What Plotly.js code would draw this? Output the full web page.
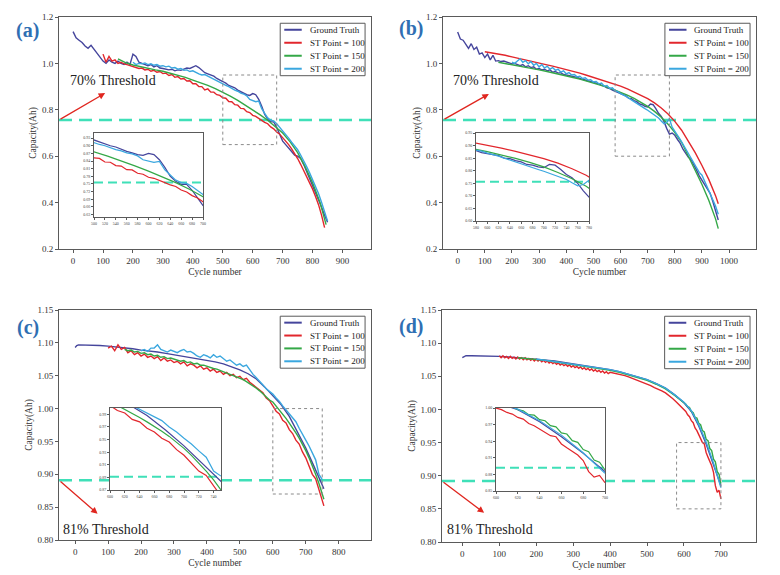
<!DOCTYPE html>
<html>
<head>
<meta charset="utf-8">
<script src="https://cdn.plot.ly/plotly-3.0.1.min.js"></script>
<style>
  html, body { margin: 0; padding: 0; background: #ffffff; }
  #chart { width: 780px; height: 575px; }
</style>
</head>
<body>
<div id="chart"></div>
<script>
// ---- cycle grids ----------------------------------------------------------
function cycles(start, stop, step) {
  const out = [];
  for (let c = start; c <= stop + 1e-9; c += step) out.push(c);
  return out;
}

const seriesNames = ['Ground Truth', 'ST Point = 100', 'ST Point = 150', 'ST Point = 200'];
const panelTags = ['(a)', '(b)', '(c)', '(d)'];
const thresholdLabels = ['70% Threshold', '70% Threshold', '81% Threshold', '81% Threshold'];
const thresholds = [0.756, 0.756, 0.891, 0.892];

// ---- panel (a) ------------------------------------------------------------
const gtA_x = cycles(0, 850, 10);
const gtA_y = [1.137, 1.110, 1.100, 1.090, 1.075, 1.065, 1.078, 1.060, 1.045, 1.025,
  1.010, 1.000, 1.015, 1.005, 1.000, 1.010, 1.000, 0.995, 1.005, 0.995,
  1.040, 1.030, 1.005, 1.000, 0.995, 0.990, 0.995, 0.985, 0.990, 0.980,
  0.978, 0.975, 0.972, 0.975, 0.968, 0.972, 0.970, 0.975, 0.980, 0.978,
  0.985, 0.990, 0.982, 0.970, 0.960, 0.955, 0.950, 0.945, 0.935, 0.930,
  0.922, 0.915, 0.905, 0.900, 0.895, 0.885, 0.878, 0.872, 0.865, 0.862,
  0.870, 0.865, 0.845, 0.815, 0.780, 0.760, 0.748, 0.748, 0.725, 0.695,
  0.665, 0.650, 0.635, 0.620, 0.605, 0.600, 0.590, 0.565, 0.535, 0.505,
  0.470, 0.445, 0.415, 0.380, 0.345, 0.315];
const st100A_x = cycles(100, 840, 10);
const st100A_y = [1.040, 1.005, 1.030, 1.010, 1.015, 1.000, 1.005, 0.998, 0.995, 0.990,
  0.985, 0.980, 0.978, 0.980, 0.972, 0.975, 0.966, 0.970, 0.962, 0.965,
  0.956, 0.958, 0.948, 0.952, 0.940, 0.943, 0.933, 0.935, 0.924, 0.925,
  0.912, 0.912, 0.900, 0.900, 0.886, 0.890, 0.876, 0.876, 0.865, 0.862,
  0.852, 0.850, 0.836, 0.835, 0.822, 0.820, 0.806, 0.805, 0.792, 0.788,
  0.776, 0.772, 0.762, 0.755, 0.746, 0.740, 0.726, 0.718, 0.704, 0.695,
  0.680, 0.668, 0.650, 0.632, 0.612, 0.590, 0.565, 0.540, 0.515, 0.488,
  0.458, 0.425, 0.390, 0.345, 0.292];
const st150A_x = cycles(150, 825, 25).concat([845]);
const st150A_y = [1.020, 1.003, 0.993, 0.985, 0.978, 0.972, 0.966, 0.958, 0.950, 0.940,
  0.928, 0.917, 0.905, 0.891, 0.876, 0.859, 0.841, 0.821, 0.800, 0.778,
  0.755, 0.729, 0.700, 0.662, 0.615, 0.555, 0.485, 0.400, 0.305];
const st200A_x = cycles(200, 850, 10);
const st200A_y = [1.005, 0.995, 1.000, 0.998, 1.002, 0.995, 0.998, 0.992, 0.995, 0.988,
  0.990, 0.985, 0.988, 0.980, 0.982, 0.975, 0.978, 0.970, 0.972, 0.965,
  0.968, 0.960, 0.955, 0.950, 0.952, 0.945, 0.938, 0.930, 0.925, 0.918,
  0.912, 0.905, 0.900, 0.892, 0.885, 0.880, 0.872, 0.868, 0.860, 0.845,
  0.840, 0.835, 0.838, 0.805, 0.785, 0.765, 0.755, 0.752, 0.740, 0.725,
  0.710, 0.695, 0.678, 0.660, 0.645, 0.628, 0.605, 0.582, 0.555, 0.528,
  0.500, 0.470, 0.438, 0.400, 0.360, 0.320];

// ---- panel (b) ------------------------------------------------------------
const gtB_x = cycles(0, 960, 10);
const gtB_y = [1.135, 1.105, 1.100, 1.080, 1.065, 1.085, 1.060, 1.070, 1.040, 1.045,
  1.025, 1.040, 1.015, 1.035, 1.010, 1.012, 1.008, 1.010, 1.005, 1.002,
  0.998, 1.000, 0.995, 0.990, 0.995, 0.985, 0.990, 0.982, 0.985, 0.975,
  0.978, 0.972, 0.975, 0.968, 0.972, 0.962, 0.965, 0.958, 0.960, 0.952,
  0.950, 0.948, 0.945, 0.942, 0.940, 0.935, 0.932, 0.930, 0.925, 0.922,
  0.920, 0.915, 0.912, 0.905, 0.902, 0.895, 0.892, 0.885, 0.880, 0.872,
  0.868, 0.862, 0.860, 0.850, 0.848, 0.840, 0.835, 0.825, 0.822, 0.815,
  0.812, 0.825, 0.822, 0.805, 0.785, 0.772, 0.750, 0.720, 0.695, 0.700,
  0.690, 0.672, 0.655, 0.630, 0.612, 0.595, 0.585, 0.565, 0.540, 0.515,
  0.495, 0.480, 0.460, 0.440, 0.405, 0.365, 0.325];
const st100B_x = cycles(100, 950, 25).concat([960]);
const st100B_y = [1.050, 1.046, 1.041, 1.035, 1.028, 1.022, 1.016, 1.009, 1.002, 0.995,
  0.988, 0.981, 0.973, 0.966, 0.958, 0.949, 0.940, 0.931, 0.922, 0.912,
  0.902, 0.890, 0.877, 0.863, 0.848, 0.830, 0.808, 0.782, 0.750, 0.712,
  0.665, 0.615, 0.560, 0.500, 0.430, 0.395];
const st150B_x = cycles(150, 950, 25).concat([960]);
const st150B_y = [1.005, 1.000, 0.995, 0.990, 0.985, 0.979, 0.972, 0.966, 0.960, 0.953,
  0.946, 0.939, 0.932, 0.924, 0.916, 0.907, 0.898, 0.887, 0.876, 0.863,
  0.849, 0.833, 0.815, 0.793, 0.768, 0.738, 0.702, 0.660, 0.600, 0.540,
  0.478, 0.410, 0.330, 0.288];
const st200B_x = cycles(200, 960, 10);
const st200B_y = [1.005, 1.000, 1.010, 1.020, 1.005, 1.012, 0.998, 1.008, 0.992, 1.000,
  0.985, 0.995, 0.980, 0.988, 0.975, 0.982, 0.970, 0.975, 0.962, 0.968,
  0.955, 0.960, 0.950, 0.952, 0.942, 0.945, 0.935, 0.938, 0.928, 0.930,
  0.920, 0.922, 0.912, 0.915, 0.902, 0.905, 0.892, 0.895, 0.882, 0.878,
  0.870, 0.865, 0.858, 0.850, 0.842, 0.835, 0.828, 0.820, 0.812, 0.805,
  0.798, 0.790, 0.780, 0.775, 0.765, 0.752, 0.740, 0.745, 0.762, 0.725,
  0.710, 0.690, 0.672, 0.652, 0.632, 0.612, 0.592, 0.575, 0.552, 0.530,
  0.518, 0.492, 0.468, 0.445, 0.415, 0.385, 0.350];

// ---- panel (c) ------------------------------------------------------------
const gtC_x = [0, 5, 10].concat(cycles(25, 725, 25)).concat([740, 755]);
const gtC_y = [1.093, 1.096, 1.097,
  1.097, 1.097, 1.096, 1.095, 1.094, 1.092, 1.091, 1.089, 1.088, 1.086,
  1.084, 1.082, 1.080, 1.078, 1.076, 1.074, 1.071, 1.068, 1.064, 1.059,
  1.053, 1.045, 1.033, 1.019, 1.006, 0.988, 0.965, 0.940, 0.912,
  0.894, 0.878];
const st100C_x = cycles(100, 750, 10).concat([755]);
const st100C_y = [1.092, 1.095, 1.088, 1.097, 1.090, 1.093, 1.085, 1.088, 1.082, 1.085,
  1.080, 1.083, 1.078, 1.080, 1.076, 1.079, 1.073, 1.077, 1.072, 1.074,
  1.070, 1.072, 1.068, 1.071, 1.065, 1.068, 1.066, 1.062, 1.065, 1.060,
  1.062, 1.057, 1.060, 1.055, 1.057, 1.052, 1.055, 1.050, 1.052, 1.047,
  1.049, 1.044, 1.046, 1.040, 1.036, 1.032, 1.027, 1.024, 1.016, 1.012,
  1.004, 0.996, 0.992, 0.982, 0.978, 0.968, 0.962, 0.952, 0.946, 0.934,
  0.925, 0.913, 0.900, 0.893, 0.876, 0.860, 0.852];
const st150C_x = cycles(150, 750, 10).concat([755]);
const st150C_y = [1.090, 1.088, 1.089, 1.086, 1.087, 1.084, 1.085, 1.082, 1.083, 1.080,
  1.081, 1.078, 1.079, 1.076, 1.077, 1.075, 1.074, 1.072, 1.073, 1.070,
  1.071, 1.068, 1.069, 1.066, 1.066, 1.064, 1.063, 1.061, 1.060, 1.058,
  1.057, 1.055, 1.053, 1.051, 1.049, 1.047, 1.044, 1.041, 1.038, 1.035,
  1.031, 1.027, 1.022, 1.017, 1.013, 1.010, 1.004, 0.998, 0.992, 0.985,
  0.978, 0.971, 0.963, 0.955, 0.946, 0.936, 0.925, 0.913, 0.900, 0.886,
  0.870, 0.862];
const st200C_x = cycles(200, 750, 10);
const st200C_y = [1.088, 1.090, 1.087, 1.092, 1.092, 1.097, 1.090, 1.088, 1.086, 1.089,
  1.087, 1.085, 1.088, 1.090, 1.086, 1.087, 1.084, 1.080, 1.078, 1.082,
  1.080, 1.077, 1.082, 1.078, 1.080, 1.076, 1.072, 1.074, 1.070, 1.066,
  1.068, 1.064, 1.066, 1.058, 1.052, 1.047, 1.042, 1.036, 1.030, 1.026,
  1.022, 1.016, 1.011, 1.004, 0.998, 0.992, 0.985, 0.980, 0.970, 0.962,
  0.952, 0.943, 0.932, 0.922, 0.900, 0.892];

// ---- panel (d) ------------------------------------------------------------
const gtD_x = [0, 5, 10].concat(cycles(25, 600, 25)).concat([620, 640, 660, 680, 700]);
const gtD_y = [1.078, 1.080, 1.081,
  1.081, 1.081, 1.081, 1.080, 1.079, 1.078, 1.077, 1.076, 1.074, 1.073,
  1.071, 1.069, 1.067, 1.065, 1.062, 1.060, 1.057, 1.053, 1.049, 1.045,
  1.039, 1.032, 1.022, 1.010,
  0.997, 0.975, 0.948, 0.918, 0.885];
const st100D_x = cycles(100, 400, 5).concat(cycles(410, 600, 10)).concat(cycles(605, 700, 5));
const st100D_y = [1.081, 1.078, 1.081, 1.078, 1.080, 1.077, 1.080, 1.077, 1.079, 1.076,
  1.079, 1.076, 1.078, 1.075, 1.078, 1.075, 1.077, 1.074, 1.076, 1.073,
  1.076, 1.073, 1.075, 1.072, 1.074, 1.071, 1.073, 1.070, 1.072, 1.069,
  1.071, 1.068, 1.070, 1.067, 1.069, 1.066, 1.068, 1.065, 1.067, 1.064,
  1.066, 1.063, 1.065, 1.062, 1.064, 1.061, 1.063, 1.060, 1.062, 1.059,
  1.061, 1.058, 1.060, 1.057, 1.059, 1.056, 1.058, 1.055, 1.057, 1.054,
  1.056,
  1.055, 1.054, 1.052, 1.051, 1.049, 1.047, 1.045, 1.043, 1.041, 1.039,
  1.036, 1.033, 1.031, 1.028, 1.025, 1.021, 1.016, 1.011, 1.006, 1.000,
  0.997, 0.992, 0.989, 0.983, 0.980, 0.972, 0.968, 0.962, 0.955, 0.950,
  0.948, 0.935, 0.928, 0.922, 0.915, 0.905, 0.885, 0.875, 0.878, 0.865];
const st150D_x = cycles(150, 575, 25).concat(cycles(600, 700, 5));
const st150D_y = [1.078, 1.077, 1.076, 1.074, 1.072, 1.070, 1.068, 1.066, 1.064, 1.061,
  1.059, 1.056, 1.052, 1.048, 1.044, 1.038, 1.031, 1.021,
  1.010, 1.008, 1.004, 1.003, 0.997, 0.995, 0.988, 0.987, 0.979, 0.977,
  0.968, 0.966, 0.955, 0.953, 0.941, 0.938, 0.925, 0.921, 0.906, 0.902,
  0.888];
const st200D_x = cycles(200, 600, 25).concat([620, 640, 660, 680, 700]);
const st200D_y = [1.076, 1.074, 1.073, 1.071, 1.069, 1.067, 1.065, 1.062, 1.060, 1.057,
  1.053, 1.049, 1.045, 1.039, 1.032, 1.022, 1.011,
  0.998, 0.977, 0.951, 0.919, 0.882];

// zoomed windows marked with a dotted box, and the inset ranges
const zoomBoxes = [[500, 680, 0.65, 0.95], [580, 780, 0.60, 0.95], [600, 750, 0.87, 1.00], [580, 700, 0.85, 0.95]];
const insetRanges = [[500, 700, 0.62, 0.95], [580, 780, 0.60, 0.95], [600, 750, 0.87, 1.00], [600, 700, 0.85, 1.00]];

const panelSeries = [
  [[gtA_x, gtA_y], [st100A_x, st100A_y], [st150A_x, st150A_y], [st200A_x, st200A_y]],
  [[gtB_x, gtB_y], [st100B_x, st100B_y], [st150B_x, st150B_y], [st200B_x, st200B_y]],
  [[gtC_x, gtC_y], [st100C_x, st100C_y], [st150C_x, st150C_y], [st200C_x, st200C_y]],
  [[gtD_x, gtD_y], [st100D_x, st100D_y], [st150D_x, st150D_y], [st200D_x, st200D_y]]
];

// ---- styling / geometry ---------------------------------------------------
const FONT = 'Liberation Serif, Times New Roman, serif';
const colors = ['#45459c', '#e2262c', '#34a847', '#3aa7df'];
const W = 780, H = 575;
const fx = px => px / W;
const fy = py => 1 - py / H;

const frames = [ // main plot frames in px: [left, right, top, bottom]
  [59, 371, 17, 249], [443, 756, 17, 249], [59, 371, 310, 540], [442, 756, 310, 542]
];
const insetFrames = [
  [94, 203, 133, 217], [476, 589, 133, 221], [110, 221, 408, 490], [496, 605, 408, 491]
];
const axisSetup = [
  { xr: [-47, 995], yr: [0.2, 1.2], yd: 0.2, y0: 0.2, yf: '.1f' },
  { xr: [-54, 1099], yr: [0.2, 1.2], yd: 0.2, y0: 0.2, yf: '.1f' },
  { xr: [-49, 898], yr: [0.8, 1.15], yd: 0.05, y0: 0.8, yf: '.2f' },
  { xr: [-55, 795], yr: [0.8, 1.15], yd: 0.05, y0: 0.8, yf: '.2f' }
];
const insetTicks = [
  { xd: 20, yd: 0.03, y0: 0.63, yf: '.2f' },
  { xd: 20, yd: 0.05, y0: 0.60, yf: '.2f' },
  { xd: 20, yd: 0.02, y0: 0.87, yf: '.2f' },
  { xd: 20, yd: 0.03, y0: 0.85, yf: '.2f' }
];
const arrowHeads = [[107, 0.872], [115, 0.868], [68, 0.840], [59, 0.844]];
const tagPos = [[27.5, 30], [410.5, 28.5], [27.5, 327.5], [410.5, 326.5]];
const thrTextPos = [[68, 81], [450.7, 81], [61, 529], [445, 529]];

const traces = [];
const shapes = [];
const annotations = [];
const layout = {
  width: W, height: H,
  margin: { l: 0, r: 0, t: 0, b: 0 },
  paper_bgcolor: '#ffffff', plot_bgcolor: '#ffffff',
  showlegend: false,
  font: { family: FONT, color: '#333' }
};

panelSeries.forEach((series, p) => {
  const n = p + 1;
  const xa = n === 1 ? 'x' : 'x' + n;
  const ya = n === 1 ? 'y' : 'y' + n;
  const ixa = 'x' + (n + 4), iya = 'y' + (n + 4);
  const fr = frames[p], ifr = insetFrames[p], ax = axisSetup[p], it = insetTicks[p];
  const ir = insetRanges[p], zb = zoomBoxes[p], thr = thresholds[p];

  const baseAxis = {
    showgrid: false, zeroline: false, showline: true, mirror: true,
    linecolor: '#5a5a5a', linewidth: 1, ticks: 'outside', tickcolor: '#5a5a5a'
  };
  layout['xaxis' + (n === 1 ? '' : n)] = Object.assign({}, baseAxis, {
    domain: [fx(fr[0]), fx(fr[1])], anchor: ya, range: ax.xr,
    dtick: 100, tick0: 0, ticklen: 3,
    tickfont: { family: FONT, size: 9, color: '#333' },
    title: { text: 'Cycle number', font: { family: FONT, size: 9.5, color: '#333' }, standoff: 3 }
  });
  layout['yaxis' + (n === 1 ? '' : n)] = Object.assign({}, baseAxis, {
    domain: [fy(fr[3]), fy(fr[2])], anchor: xa, range: ax.yr,
    dtick: ax.yd, tick0: ax.y0, tickformat: ax.yf, ticklen: 3,
    tickfont: { family: FONT, size: 9, color: '#333' },
    title: { text: 'Capacity(Ah)', font: { family: FONT, size: 9.5, color: '#333' }, standoff: 3 }
  });
  layout['xaxis' + (n + 4)] = Object.assign({}, baseAxis, {
    domain: [fx(ifr[0]), fx(ifr[1])], anchor: iya, range: [ir[0], ir[1]],
    dtick: it.xd, tick0: ir[0], ticklen: 2, tickangle: 0,
    tickfont: { family: FONT, size: 4, color: '#444' }
  });
  layout['yaxis' + (n + 4)] = Object.assign({}, baseAxis, {
    domain: [fy(ifr[3]), fy(ifr[2])], anchor: ixa, range: [ir[2], ir[3]],
    dtick: it.yd, tick0: it.y0, tickformat: it.yf, ticklen: 2,
    tickfont: { family: FONT, size: 4, color: '#444' }
  });

  // curves in the main panel and in its inset
  series.forEach((s, k) => {
    traces.push({
      type: 'scatter', mode: 'lines', x: s[0], y: s[1], name: seriesNames[k],
      xaxis: xa, yaxis: ya, line: { color: colors[k], width: 1.4 }, hoverinfo: 'skip'
    });
  });
  series.forEach((s, k) => {
    traces.push({
      type: 'scatter', mode: 'lines', x: s[0], y: s[1], name: seriesNames[k],
      xaxis: ixa, yaxis: iya, line: { color: colors[k], width: 1.2 }, hoverinfo: 'skip'
    });
  });

  // threshold lines
  const dashStyle = { color: '#3fe0b8', width: 2.6, dash: '13px,7px' };
  shapes.push({ type: 'line', layer: 'below', xref: xa, yref: ya,
    x0: ax.xr[0], x1: ax.xr[1], y0: thr, y1: thr, line: dashStyle });
  shapes.push({ type: 'line', layer: 'below', xref: ixa, yref: iya,
    x0: ir[0], x1: ir[1], y0: thr, y1: thr, line: { color: '#3fe0b8', width: 2, dash: '9px,5px' } });

  // dotted zoom window
  shapes.push({ type: 'rect', layer: 'above', xref: xa, yref: ya,
    x0: zb[0], x1: zb[1], y0: zb[2], y1: zb[3],
    line: { color: '#8a8a8a', width: 1, dash: 'dot' } });

  // legend box
  const xd = xa + ' domain', yd = ya + ' domain';
  shapes.push({ type: 'rect', layer: 'above', xref: xd, yref: yd,
    x0: 0.709, x1: 0.981, y0: 0.747, y1: 0.973,
    fillcolor: '#ffffff', line: { color: '#5a5a5a', width: 1 } });
  const rows = [0.945, 0.889, 0.833, 0.777];
  seriesNames.forEach((name, k) => {
    shapes.push({ type: 'line', layer: 'above', xref: xd, yref: yd,
      x0: 0.722, x1: 0.778, y0: rows[k], y1: rows[k], line: { color: colors[k], width: 2 } });
    annotations.push({ xref: xd, yref: yd, x: 0.797, y: rows[k], xanchor: 'left', yanchor: 'middle',
      text: name, showarrow: false, font: { family: FONT, size: 9, color: '#222' } });
  });

  // panel tag
  annotations.push({ xref: 'paper', yref: 'paper', x: fx(tagPos[p][0]), y: fy(tagPos[p][1]),
    xanchor: 'center', yanchor: 'middle', showarrow: false,
    text: '<b>' + panelTags[p] + '</b>', font: { family: FONT, size: 20, color: '#2f6fb3' } });

  // threshold caption
  annotations.push({ xref: 'paper', yref: 'paper', x: fx(thrTextPos[p][0]), y: fy(thrTextPos[p][1]),
    xanchor: 'left', yanchor: 'middle', showarrow: false,
    text: thresholdLabels[p], font: { family: FONT, size: 14, color: '#222' } });

  // arrow from the threshold level toward the caption
  annotations.push({ xref: xa, yref: ya, axref: xa, ayref: ya,
    x: arrowHeads[p][0], y: arrowHeads[p][1], ax: ax.xr[0], ay: thr,
    text: '', showarrow: true, arrowhead: 2, arrowsize: 1, arrowwidth: 1.3,
    arrowcolor: '#e0261f', standoff: 0, startstandoff: 0 });
});

layout.shapes = shapes;
layout.annotations = annotations;

Plotly.newPlot('chart', traces, layout, { staticPlot: true, displayModeBar: false });
</script>
</body>
</html>
